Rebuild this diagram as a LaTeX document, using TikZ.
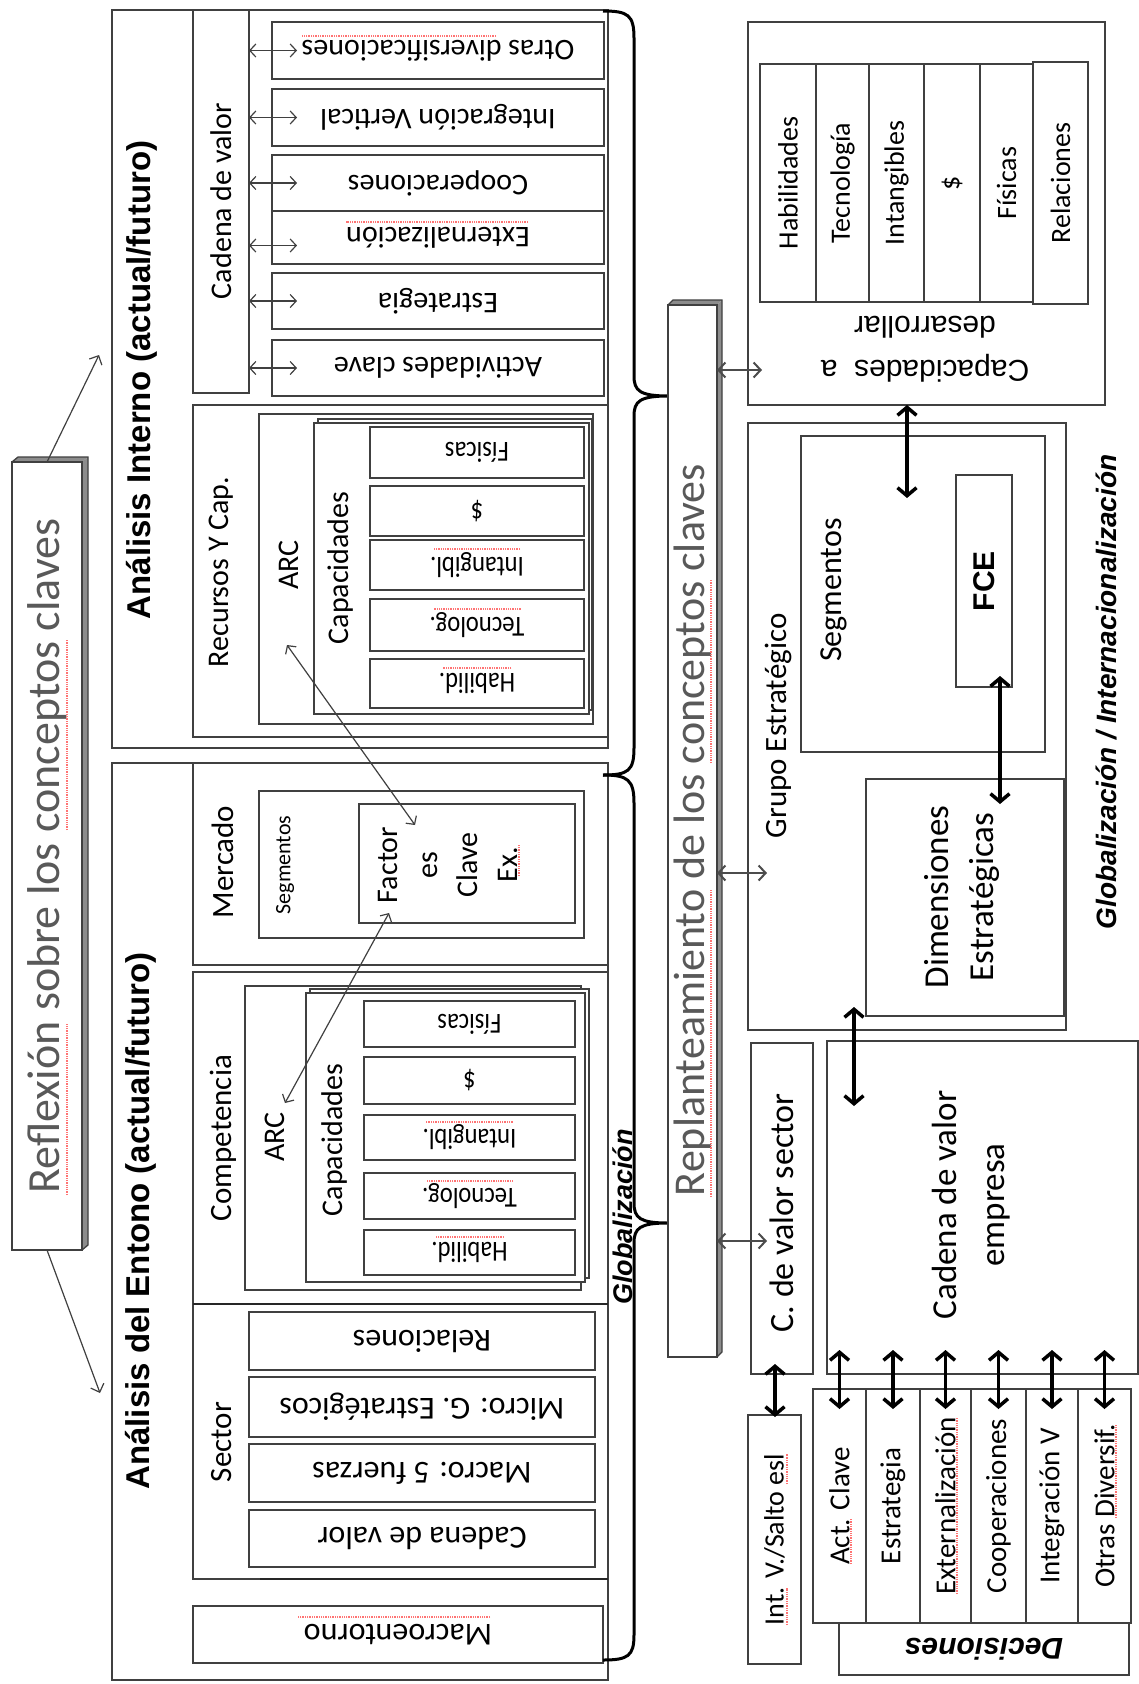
\documentclass[tikz,border=0pt]{standalone}
\usepackage{fontspec}
\newfontfamily\calfont{Carlito}
\newfontfamily\arfont{Liberation Sans}
\usetikzlibrary{arrows.meta}
\newcommand\fsz[2]{\fontsize{#1pt}{#2pt}\selectfont}
% box node given by its top-left (x1,y1) and bottom-right (x2,y2) corners, y grows downwards
\newcommand\bx[5]{\node[boxn, minimum width={(#4-#2)*1pt}, minimum height={(#5-#3)*1pt}] (#1) at (#2,#3) {};}
\begin{document}
\begin{tikzpicture}[x=1pt,y=-1pt,
  boxn/.style={draw=black!75, line width=1.5pt, anchor=north west, inner sep=0pt, outer sep=0pt, fill=white},
  boxline/.style={draw=black!75, line width=1.3pt},
  cal/.style={inner sep=0pt, font=\calfont\fsz{#1}{#1}},
  calc/.style={inner sep=0pt, font=\calfont\fsz{#1}{#1}, xscale=0.85},
  arb/.style={inner sep=0pt, font=\arfont\bfseries\fsz{#1}{#1}},
  arbi/.style={inner sep=0pt, font=\arfont\bfseries\itshape\fsz{#1}{#1}},
  tarr/.style={draw=black!75, line width=1.2pt, {Straight Barb[length=6pt,width=13pt]}-{Straight Barb[length=6pt,width=13pt]}},
  tarr1/.style={draw=black!75, line width=1.2pt, -{Straight Barb[length=7pt,width=14pt]}},
  rarr/.style={draw=black!70, line width=2pt, {Straight Barb[length=7pt,width=15pt]}-{Straight Barb[length=7pt,width=15pt]}},
  tk/.style={draw=black, line width=3.5pt, {Straight Barb[length=8pt,width=19pt]}-{Straight Barb[length=8pt,width=19pt]}},
  brace/.style={draw=black, line width=3pt},
  bevel/.style={fill=black!45},
  spell/.style={draw=red!55, line width=1.3pt, densely dotted}
]
\fill[white] (0,0) rectangle (1139,1684);
\useasboundingbox (0,0) rectangle (1139,1684);

% ---------------- Reflexión
\fill[bevel] (12,462) -- (18,457) -- (88,457) -- (82,462) -- cycle;
\fill[bevel] (82,462) -- (88,457) -- (88,1245) -- (82,1250) -- cycle;
\draw[boxline] (12,462) -- (18,457) -- (88,457) -- (88,1245) -- (82,1250);
\bx{refl}{12}{462}{82}{1250}
\node[cal=46, rotate=90, text=black!65] (reflT) at (47,856) {Reflexión sobre los conceptos claves};
\draw[spell] (67,1195) -- (67,1023);
\draw[spell] (67,830) -- (67,640);
\coordinate (reflUp) at (99,355);
\coordinate (reflDn) at (100,1393);
\draw[tarr1] (refl.north) -- (reflUp);
\draw[tarr1] (refl.south) -- (reflDn);

% ---------------- Análisis Interno
\bx{intern}{112}{10}{608}{748}
\node[arb=33, rotate=90] (internT) at (142,380) {Análisis Interno (actual/futuro)};
\bx{cadI}{193}{10}{249}{393}
\node[cal=30, rotate=90] (cadIT) at (221,201) {Cadena de valor};
\bx{od}{272}{22}{604}{79}
\bx{iv}{272}{89}{604}{146}
\bx{coop}{272}{155}{604}{211}
\bx{ext}{272}{211}{604}{264}
\bx{est}{272}{273}{604}{329}
\bx{ac}{272}{340}{604}{396}
\node[cal=30, rotate=180] (odT) at (od) {Otras diversificaciones};
\node[cal=30, rotate=180] (ivT) at (iv) {Integración Vertical};
\node[cal=30, rotate=180] (coopT) at (coop) {Cooperaciones};
\node[cal=30, rotate=180] (extT) at (ext) {Externalización};
\node[cal=30, rotate=180] (estT) at (est) {Estrategia};
\node[cal=30, rotate=180] (acT) at (ac) {Actividades clave};
\draw[spell] (496,36) -- (302,36);
\draw[spell] (528,222) -- (346,222);
\draw[tarr] (cadI.east |- od) -- +(48,0);
\draw[tarr] (cadI.east |- iv) -- +(48,0);
\draw[tarr] (cadI.east |- coop) -- +(48,0);
\draw[tarr] ([yshift=-8pt]cadI.east |- ext) -- +(48,0);
\draw[tarr] (cadI.east |- est) -- +(48,0);
\draw[tarr] (cadI.east |- ac) -- +(48,0);

\bx{recI}{193}{405}{608}{737}
\node[cal=30, rotate=90] (recIT) at (221,572) {Recursos Y Cap.};
\bx{arcI}{259}{414}{593}{724}
\node[cal=30, rotate=90] (arcIT) at (289,565) {ARC};
\draw[boxline, fill=white] (318,419) rectangle (592,710);
\bx{capI}{314}{423}{589}{714}
\node[cal=30, rotate=90] (capIT) at (340,568) {Capacidades};
\bx{fisI}{370}{427}{584}{478}
\bx{dolI}{370}{486}{584}{536}
\bx{intI}{370}{540}{584}{590}
\bx{tecI}{370}{599}{584}{651}
\bx{habI}{370}{659}{584}{708}
\node[calc=29, rotate=180] (fisIT) at (fisI) {Físicas};
\node[calc=29, rotate=180] (dolIT) at (dolI) {\$};
\node[calc=29, rotate=180] (intIT) at (intI) {Intangibl.};
\node[calc=29, rotate=180] (tecIT) at (tecI) {Tecnolog.};
\node[calc=29, rotate=180] (habIT) at (habI) {Habilid.};
\draw[spell] ([xshift=-4pt]intIT.west |- 0,549) -- ([xshift=4pt]intIT.east |- 0,549);
\draw[spell] ([xshift=-4pt]tecIT.west |- 0,609) -- ([xshift=4pt]tecIT.east |- 0,609);
\draw[spell] ([xshift=-4pt]habIT.west |- 0,668) -- ([xshift=4pt]habIT.east |- 0,668);

% ---------------- Análisis del Entono
\bx{entorno}{112}{763}{608}{1680}
\node[arb=33, rotate=90] (entT) at (141,1221) {Análisis del Entono (actual/futuro)};
\bx{merc}{193}{763}{608}{965}
\node[cal=31, rotate=90] (mercT) at (223,862) {Mercado};
\bx{segM}{259}{791}{584}{938}
\node[cal=22, rotate=90] (segMT) at (285,865) {Segmentos};
\bx{fcex}{359}{804}{575}{923}
\node[inner sep=0pt, font=\calfont\fsz{30}{40}, align=center, rotate=90] (fcexT) at (448,865) {Factor\\es\\Clave\\Ex.};
\draw[spell] (519,876) -- (519,845);

\bx{comp}{193}{972}{608}{1304}
\node[cal=31, rotate=90] (compT) at (223,1138) {Competencia};
\bx{arcC}{245}{986}{581}{1290}
\node[cal=30, rotate=90] (arcCT) at (275,1137) {ARC};
\draw[boxline, fill=white] (310,989) rectangle (589,1278);
\bx{capC}{306}{993}{585}{1282}
\node[cal=30, rotate=90] (capCT) at (334,1140) {Capacidades};
\bx{fisC}{364}{1001}{575}{1047}
\bx{dolC}{364}{1057}{575}{1104}
\bx{intC}{364}{1115}{575}{1160}
\bx{tecC}{364}{1173}{575}{1219}
\bx{habC}{364}{1230}{575}{1275}
\node[calc=29, rotate=180] (fisCT) at (fisC) {Físicas};
\node[calc=29, rotate=180] (dolCT) at (dolC) {\$};
\node[calc=29, rotate=180] (intCT) at (intC) {Intangibl.};
\node[calc=29, rotate=180] (tecCT) at (tecC) {Tecnolog.};
\node[calc=29, rotate=180] (habCT) at (habC) {Habilid.};
\draw[spell] ([xshift=-4pt]intCT.west |- 0,1122) -- ([xshift=4pt]intCT.east |- 0,1122);
\draw[spell] ([xshift=-4pt]tecCT.west |- 0,1181) -- ([xshift=4pt]tecCT.east |- 0,1181);
\draw[spell] ([xshift=-4pt]habCT.west |- 0,1237) -- ([xshift=4pt]habCT.east |- 0,1237);

\bx{sect}{193}{1304}{608}{1579}
\draw[draw=black!85, line width=2.6pt] (sect.north west) -- (sect.north east);
\draw[draw=black!85, line width=2.6pt] (260,1579) -- (sect.south east);
\node[cal=31, rotate=90] (sectT) at (222,1442) {Sector};
\bx{rel}{249}{1312}{595}{1370}
\bx{mic}{249}{1377}{595}{1437}
\bx{mac}{249}{1444}{595}{1502}
\bx{cvs}{249}{1510}{595}{1567}
\node[cal=32, rotate=180] (relT) at (rel) {Relaciones};
\node[cal=32, rotate=180] (micT) at (mic) {Micro: G. Estratégicos};
\node[cal=32, rotate=180] (macT) at (mac) {Macro: 5 fuerzas};
\node[cal=32, rotate=180] (cvsT) at (cvs) {Cadena de valor};
\bx{macro}{193}{1606}{603}{1663}
\node[cal=32, rotate=180] (macroT) at (macro) {Macroentorno};
\draw[spell] (490,1617) -- (298,1617);

% links between the ARC boxes and the key factors
\coordinate (arcIend) at (287,645);
\coordinate (fceTop) at (415,825);
\coordinate (fceBot) at (389,913);
\coordinate (arcCend) at (285,1103);
\draw[tarr] (arcIend) -- (fceTop);
\draw[tarr] (fceBot) -- (arcCend);

% ---------------- braces
\draw[brace] (603,11) .. controls (628,11) and (634,15) .. (634,38) -- (634,376)
  .. controls (634,391) and (640,396) .. (669,396)
  .. controls (640,396) and (634,401) .. (634,416) -- (634,748)
  .. controls (634,771) and (628,775) .. (603,775);
\draw[brace] (603,775) .. controls (628,775) and (634,780) .. (634,803) -- (634,1203)
  .. controls (634,1218) and (640,1223) .. (668,1223)
  .. controls (640,1223) and (634,1228) .. (634,1243) -- (634,1635)
  .. controls (634,1656) and (628,1660) .. (603,1660);
\node[arbi=27, rotate=90] (globT) at (623,1217) {Globalización};

% ---------------- Replanteamiento
\fill[bevel] (668,305) -- (673,300) -- (722,300) -- (717,305) -- cycle;
\fill[bevel] (717,305) -- (722,300) -- (722,1352) -- (717,1357) -- cycle;
\draw[boxline] (668,305) -- (673,300) -- (722,300) -- (722,1352) -- (717,1357);
\bx{repl}{668}{305}{717}{1357}
\node[cal=44, rotate=90, text=black!65] (replT) at (693,830) {Replanteamiento de los conceptos claves};
\draw[spell] (711,1197) -- (711,890);
\draw[spell] (711,763) -- (711,580);

% ---------------- Capacidades a desarrollar
\bx{capd}{748}{22}{1105}{405}
\bx{cd1}{760}{64}{816}{302}
\bx{cd2}{816}{64}{869}{302}
\bx{cd3}{869}{64}{924}{302}
\bx{cd4}{924}{64}{980}{302}
\bx{cd5}{980}{64}{1033}{302}
\bx{cd6}{1033}{62}{1088}{304}
\node[cal=28, rotate=90] (cd1T) at (cd1) {Habilidades};
\node[cal=28, rotate=90] (cd2T) at (cd2) {Tecnología};
\node[cal=28, rotate=90] (cd3T) at (cd3) {Intangibles};
\node[cal=28, rotate=90] (cd4T) at (cd4) {\$};
\node[cal=28, rotate=90] (cd5T) at (cd5) {Físicas};
\node[cal=28, rotate=90] (cd6T) at (cd6) {Relaciones};
\node[inner sep=0pt, font=\arfont\fsz{30}{44}, align=center, rotate=180] (capdT) at (925,349) {Capacidades~~a\\desarrollar};

% ---------------- Grupo Estratégico
\bx{grupo}{748}{423}{1066}{1030}
\node[cal=31, rotate=90] (grupoT) at (778,726) {Grupo Estratégico};
\bx{segG}{801}{436}{1045}{752}
\node[cal=32, rotate=90] (segGT) at (834,590) {Segmentos};
\bx{fce}{956}{475}{1012}{687}
\node[arb=30, rotate=90] (fceT) at (fce) {FCE};
\bx{dim}{866}{779}{1064}{1016}
\node[inner sep=0pt, font=\calfont\fsz{35}{45}, align=center, rotate=90] (dimT) at (962,897) {Dimensiones\\Estratégicas};
\node[arbi=28, rotate=90] (globIT) at (1106,692) {Globalización / Internacionalización};

% ---------------- value chains
\bx{cvsec}{751}{1043}{813}{1374}
\node[cal=34, rotate=90] (cvsecT) at (782,1213) {C. de valor sector};
\bx{cve}{827}{1041}{1138}{1374}
\node[inner sep=0pt, font=\calfont\fsz{35}{48}, align=center, rotate=90] (cveT) at (971,1205) {Cadena de valor\\empresa};
\bx{salto}{748}{1415}{801}{1664}
\node[cal=28, rotate=90] (saltoT) at (salto) {Int. V./Salto esl};
\draw[spell] (787,1625) -- (787,1588);
\draw[spell] (787,1484) -- (787,1454);

\bx{dc1}{813}{1389}{866}{1623}
\bx{dc2}{866}{1389}{920}{1623}
\bx{dc3}{920}{1389}{971}{1623}
\bx{dc4}{971}{1389}{1026}{1623}
\bx{dc5}{1026}{1389}{1078}{1623}
\bx{dc6}{1078}{1389}{1131}{1623}
\node[cal=29, rotate=90] (dc1T) at (dc1) {Act. Clave};
\node[cal=29, rotate=90] (dc2T) at (dc2) {Estrategia};
\node[cal=29, rotate=90] (dc3T) at (dc3) {Externalización};
\node[cal=29, rotate=90] (dc4T) at (dc4) {Cooperaciones};
\node[cal=29, rotate=90] (dc5T) at (dc5) {Integración V};
\node[cal=29, rotate=90] (dc6T) at (dc6) {Otras Diversif.};
\draw[spell] (851,1564) -- (851,1519);
\draw[spell] (957,1594) -- (957,1418);
\draw[spell] (1116,1518) -- (1116,1424);
\bx{deci}{839}{1623}{1129}{1675}
\node[arbi=30, rotate=180] (deciT) at (deci) {Decisiones};

% ---------------- connectors of the right-hand side
\draw[rarr] (repl.east |- 0,370) -- (capd.west |- 0,370) -- +(14,0);
\draw[rarr] (repl.east |- 0,873) -- +(50,0);
\draw[rarr] (repl.east |- 0,1241) -- +(50,0);
\draw[tk] (capd.south -| 907,0) -- (907,498);
\draw[tk] (1000,676) -- (1000,804);
\draw[tk] (854,1007) -- (854,1106);
\draw[tk] (775,1364) -- (775,1417);
\foreach \c in {dc1,dc2,dc3,dc4,dc5,dc6}
  \draw[tk] (\c.north) ++(0,-39) -- ++(0,59);
\end{tikzpicture}
\end{document}
